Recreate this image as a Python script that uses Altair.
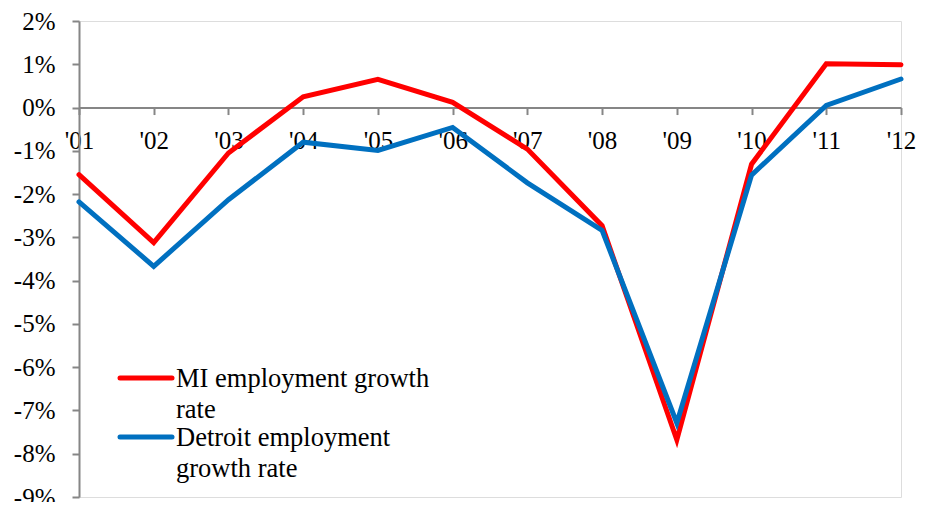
import altair as alt
import pandas as pd

years = ["'01", "'02", "'03", "'04", "'05", "'06", "'07", "'08", "'09", "'10", "'11", "'12"]
mi_growth = [-1.55, -3.12, -1.05, 0.25, 0.65, 0.12, -0.96, -2.73, -7.68, -1.31, 1.01, 0.99]
detroit_growth = [-2.18, -3.67, -2.13, -0.80, -0.99, -0.46, -1.74, -2.84, -7.29, -1.56, 0.05, 0.66]
series_names = ["MI employment growth rate", "Detroit employment growth rate"]
legend_labels = ["MI employment growth\nrate", "Detroit employment\ngrowth rate"]
series_colors = ["#FF0000", "#0070C0"]
y_ticks = [-9, -8, -7, -6, -5, -4, -3, -2, -1, 0, 1, 2]

rows = []
for i, y in enumerate(years):
    rows.append({"year": y, "series": series_names[0], "value": mi_growth[i] / 100, "order": i})
    rows.append({"year": y, "series": series_names[1], "value": detroit_growth[i] / 100, "order": i})
df = pd.DataFrame(rows)
legend_df = pd.DataFrame({"series": series_names, "label": legend_labels})

FONT = "Liberation Serif"
AXIS_GRAY = "#868686"
PLOT_W, PLOT_H = 822, 476

color = alt.Color("series:N", scale=alt.Scale(domain=series_names, range=series_colors), legend=None)

lines = alt.Chart(df).mark_line(strokeWidth=5, strokeCap="round", strokeJoin="miter").encode(
    x=alt.X("year:O", sort=years, scale=alt.Scale(padding=0),
            axis=alt.Axis(title=None, labelAngle=0, offset=-(PLOT_H * 9 / 11), domainColor=AXIS_GRAY,
                          tickColor=AXIS_GRAY, tickSize=7, tickWidth=2, domainWidth=2,
                          labelFont=FONT, labelFontSize=25, labelColor="black",
                          labelPadding=34, labelBaseline="alphabetic")),
    y=alt.Y("value:Q", scale=alt.Scale(domain=[-0.09, 0.02], nice=False),
            axis=alt.Axis(title=None, values=[v / 100 for v in y_ticks],
                          labelExpr="(datum.value < -0.0001 ? '-' : '') + format(abs(datum.value), '.0%')",
                          grid=False, domainColor=AXIS_GRAY, tickColor=AXIS_GRAY,
                          tickSize=7, tickWidth=2, domainWidth=2,
                          labelFont=FONT, labelFontSize=25, labelColor="black",
                          labelPadding=17)),
    color=color,
    order="order:Q",
)

legend_y = alt.Y("series:N", scale=alt.Scale(type="point", domain=series_names, range=[357, 416], padding=0),
                 axis=None)

legend_rules = alt.Chart(legend_df).mark_rule(strokeWidth=5, strokeCap="round").encode(
    x=alt.value(41), x2=alt.value(93), y=legend_y, color=color,
)
legend_text = alt.Chart(legend_df).mark_text(
    align="left", baseline="alphabetic", dy=9, lineBreak="\n", lineHeight=31,
    font=FONT, fontSize=26.5, color="black",
).encode(x=alt.value(97), y=legend_y, text="label:N")

chart = alt.layer(lines, legend_rules, legend_text).resolve_scale(y="independent").properties(
    width=PLOT_W, height=PLOT_H,
    autosize=alt.AutoSizeParams(type="none"),
    padding={"left": 71, "top": 13, "right": 17, "bottom": 5},
).configure_view(stroke=None).configure(background="white")

chart.save("out.html", embed_options={"renderer": "svg", "actions": False})
